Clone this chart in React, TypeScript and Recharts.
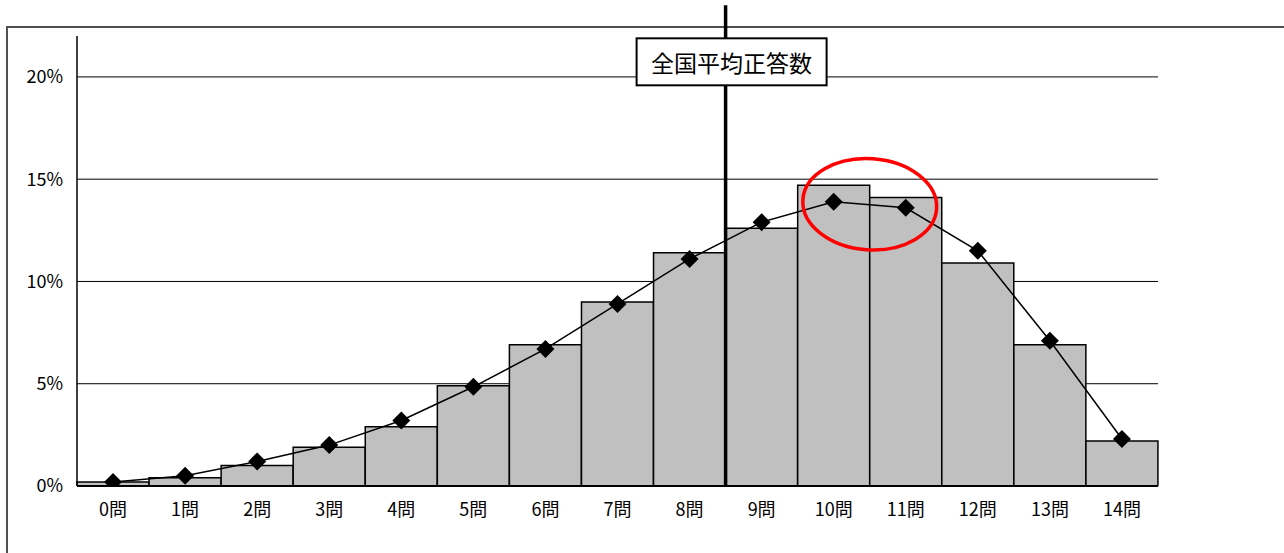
import {
  ComposedChart,
  Bar,
  Line,
  XAxis,
  YAxis,
  CartesianGrid,
  ReferenceLine,
} from "recharts";

// 正答数ごとの割合（%）
const QUESTIONS = ["0問", "1問", "2問", "3問", "4問", "5問", "6問", "7問", "8問", "9問", "10問", "11問", "12問", "13問", "14問"];
const SCHOOL = [0.2, 0.4, 1.0, 1.9, 2.9, 4.9, 6.9, 9.0, 11.4, 12.6, 14.7, 14.1, 10.9, 6.9, 2.2];
const NATIONAL = [0.2, 0.5, 1.2, 2.0, 3.2, 4.85, 6.7, 8.9, 11.1, 12.9, 13.9, 13.6, 11.5, 7.1, 2.3];
const Y_TICKS = [0, 5, 10, 15, 20];
// 全国平均は9問の区間の左端に引く
const MEAN_BIN = "9問";
// 10問と11問の境目を中心に囲む
const RING_BIN = "11問";
const RING_RANGE = [11.55, 16.0];

const FONT = '"Noto Sans CJK JP", "Noto Sans", sans-serif';

const rows = QUESTIONS.map((q, i) => ({ q, school: SCHOOL[i], national: NATIONAL[i] }));

function Diamond(props: any) {
  const { cx, cy, index } = props;
  if (cx == null || cy == null) return null;
  const r = 9;
  return (
    <path
      key={`d-${index}`}
      d={`M${cx},${cy - r} L${cx + r},${cy} L${cx},${cy + r} L${cx - r},${cy} Z`}
      fill="#000"
    />
  );
}

function MeanLabel(props: any) {
  const { viewBox } = props;
  if (!viewBox) return null;
  const w = 190;
  const h = 47;
  const cx = viewBox.x + 6;
  const top = viewBox.y + 33;
  return (
    <g>
      <rect x={cx - w / 2} y={top} width={w} height={h} fill="#fff" stroke="#000" strokeWidth={2} />
      <text
        x={cx}
        y={top + h / 2}
        textAnchor="middle"
        dominantBaseline="central"
        fontFamily={FONT}
        fontSize={23}
        fill="#000"
      >
        全国平均正答数
      </text>
    </g>
  );
}

// 赤い楕円（縦の範囲は線分の長さから取る）
function Ring(props: any) {
  const { viewBox } = props;
  if (!viewBox) return null;
  const cx = viewBox.x;
  const cy = viewBox.y + viewBox.height / 2;
  return (
    <ellipse
      cx={cx}
      cy={cy}
      rx={67}
      ry={viewBox.height / 2}
      transform={`rotate(4 ${cx} ${cy})`}
      fill="none"
      stroke="#ff0000"
      strokeWidth={3.5}
    />
  );
}

export default function App() {
  return (
    <div
      style={{
        position: "absolute",
        left: 0,
        top: 0,
        width: 1284,
        height: 553,
        overflow: "hidden",
        background: "#fff",
      }}
    >
      <div
        style={{
          position: "absolute",
          left: 6,
          top: 26,
          width: 1300,
          height: 600,
          border: "2px solid #505050",
        }}
      />
      <div style={{ position: "absolute", left: 0, top: 0 }}>
        <ComposedChart
          width={1284}
          height={553}
          data={rows}
          margin={{ top: 36, right: 126, bottom: 0, left: 0 }}
          barCategoryGap={0}
          barGap={0}
        >
          <CartesianGrid vertical={false} stroke="#000" strokeWidth={1} syncWithTicks />
          <XAxis
            dataKey="q"
            height={67}
            tickLine={false}
            axisLine={{ stroke: "#000", strokeWidth: 2 }}
            tickMargin={11}
            tick={{ fontFamily: FONT, fontSize: 18, fill: "#000" }}
            interval={0}
          />
          <YAxis
            width={77}
            domain={[0, 22]}
            ticks={Y_TICKS}
            tickFormatter={(v) => `${v}%`}
            tickLine={false}
            tickMargin={8}
            axisLine={{ stroke: "#000", strokeWidth: 1.5 }}
            tick={{ fontFamily: FONT, fontSize: 18, fill: "#000" }}
            allowDataOverflow
          />
          <YAxis
            yAxisId="r"
            orientation="right"
            width={0}
            domain={[0, 1]}
            tick={false}
            tickLine={false}
            axisLine={{ stroke: "#404040", strokeWidth: 2 }}
          />
          <Bar dataKey="school" fill="#c0c0c0" stroke="#000" strokeWidth={1.5} isAnimationActive={false} />
          <Line
            dataKey="national"
            type="linear"
            stroke="#000"
            strokeWidth={1.5}
            dot={Diamond}
            activeDot={false}
            isAnimationActive={false}
          />
          <ReferenceLine
            segment={[
              { x: MEAN_BIN, y: 0 },
              { x: MEAN_BIN, y: 23.5 },
            ]}
            position="start"
            ifOverflow="visible"
            stroke="#000"
            strokeWidth={3.5}
            label={MeanLabel}
          />
          <ReferenceLine
            segment={[
              { x: RING_BIN, y: RING_RANGE[0] },
              { x: RING_BIN, y: RING_RANGE[1] },
            ]}
            position="start"
            ifOverflow="visible"
            stroke="none"
            label={Ring}
          />
        </ComposedChart>
      </div>
    </div>
  );
}
